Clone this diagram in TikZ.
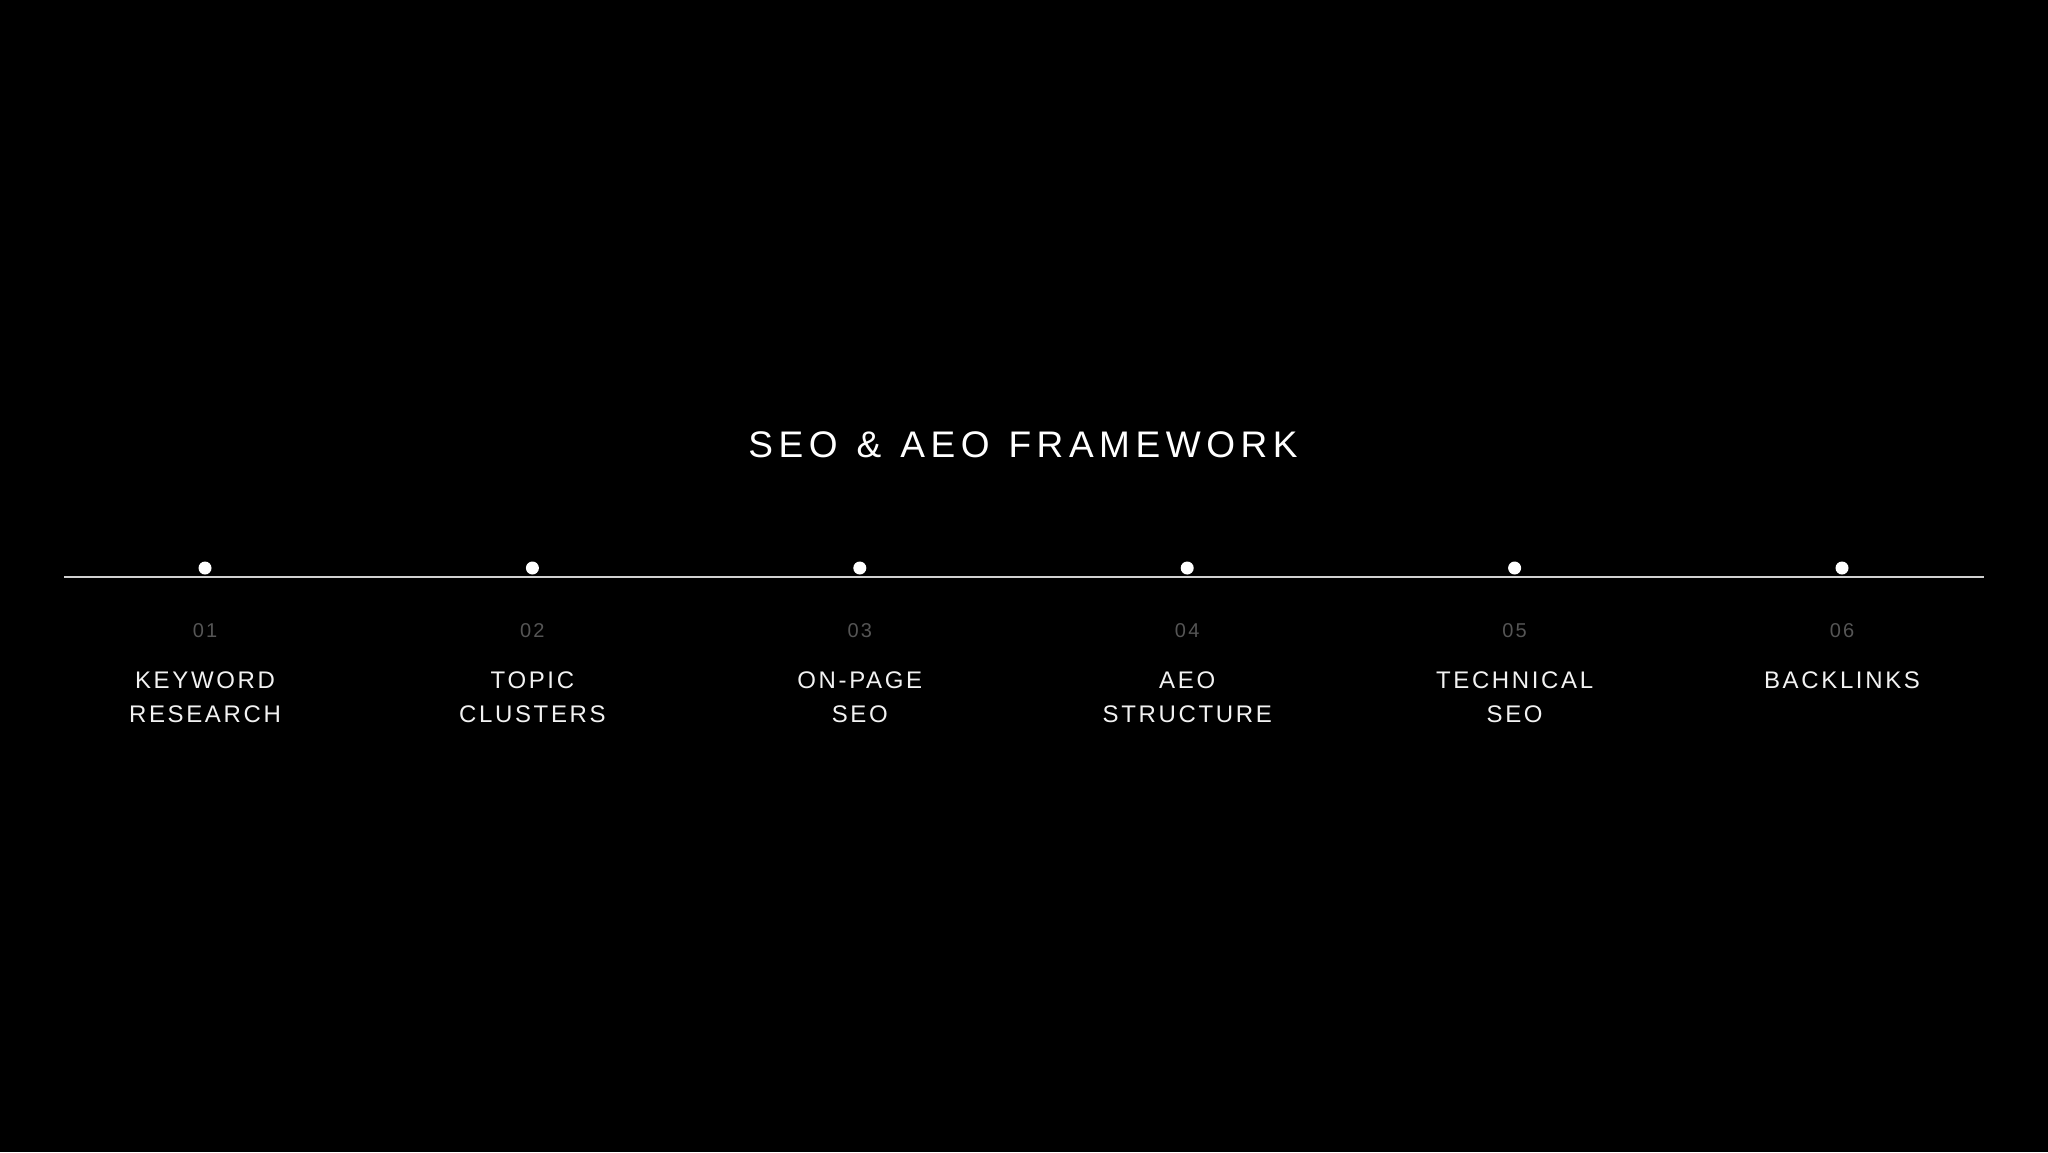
\documentclass[tikz,border=0pt]{standalone}
\usepackage{fontspec}
\setmainfont{Liberation Sans}
\newfontfamily\titlefont[LetterSpace=15,WordSpace=1.2]{Liberation Sans}
\newfontfamily\labelfont[LetterSpace=11]{Liberation Sans}
\definecolor{numgrey}{HTML}{555555}
\definecolor{linegrey}{HTML}{D0D0D0}
\definecolor{labelwhite}{HTML}{F2F2F2}
\begin{document}
\begin{tikzpicture}[x=1pt,y=-1pt,
  titlestyle/.style={text=white,font=\titlefont\fontsize{37}{42}\selectfont,anchor=base,inner sep=0pt},
  numstyle/.style={text=numgrey,font=\labelfont\fontsize{20}{24}\selectfont,anchor=base,inner sep=0pt},
  labelstyle/.style={text=labelwhite,font=\labelfont\fontsize{24}{34}\selectfont,anchor=base,align=center,inner sep=0pt},
  dotstyle/.style={circle,fill=white,draw=none,minimum size=13pt,inner sep=0pt},
  axisline/.style={draw=linegrey,line width=1.4pt}]
\fill[black] (0,0) rectangle (2048,1152);
\useasboundingbox (0,0) rectangle (2048,1152);
\node[titlestyle] (title) at (1023,457) {SEO \& AEO FRAMEWORK};
\coordinate (lstart) at (64,577);
\coordinate (lend) at (1984,577);
\draw[axisline] (lstart) -- (lend);
\foreach \i/\n/\ly/\lab in {0/01/722/{KEYWORD\\RESEARCH},1/02/722/{TOPIC\\CLUSTERS},2/03/722/{ON-PAGE\\SEO},3/04/722/{AEO\\STRUCTURE},4/05/722/{TECHNICAL\\SEO},5/06/688/{BACKLINKS}}{
  \pgfmathsetmacro{\xx}{205+327.4*\i}
  \node[dotstyle] (dot\i) at (\xx,568) {};
  \node[numstyle] (num\i) at (\xx,637) {\n};
  \node[labelstyle] (lab\i) at (\xx,\ly) {\lab};
}
\end{tikzpicture}
\end{document}
